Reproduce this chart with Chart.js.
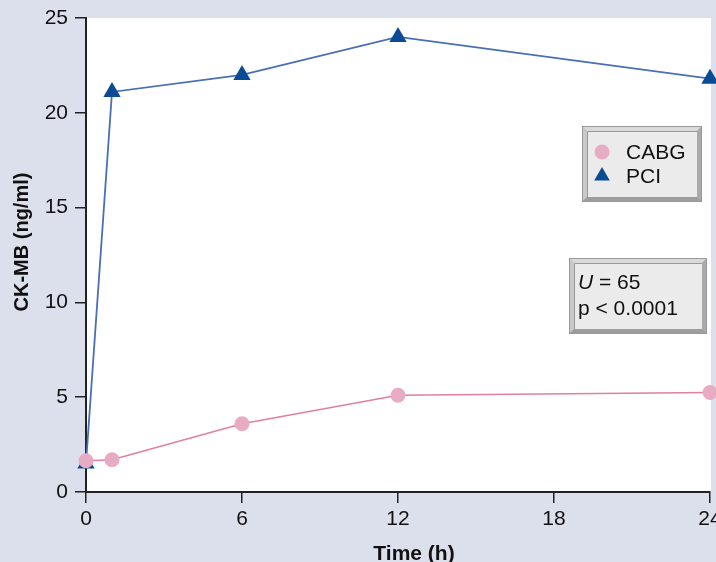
<!DOCTYPE html>
<html>
<head>
<meta charset="utf-8">
<script src="https://cdn.jsdelivr.net/npm/chart.js@4/dist/chart.umd.min.js"></script>
<style>
  html, body { margin: 0; padding: 0; background: #dcdfec; }
  #wrap { width: 716px; height: 562px; position: relative; }
  canvas { display: block; }
</style>
</head>
<body>
<div id="wrap"><canvas id="c" width="716" height="562"></canvas></div>
<script>
// ---- data ----
const hours = [0, 1, 6, 12, 24];
const cabgValues = [1.65, 1.7, 3.6, 5.1, 5.25];
const pciValues = [1.5, 21.1, 22.0, 24.0, 21.8];
const seriesLabels = ['CABG', 'PCI'];
const xTickValues = [0, 6, 12, 18, 24];
const yTickValues = [0, 5, 10, 15, 20, 25];
const xTitle = 'Time (h)';
const yTitle = 'CK-MB (ng/ml)';
const statLines = [['U', ' = 65'], ['', 'p < 0.0001']];

const FONT = "'Liberation Sans', Arial, Helvetica, sans-serif";
const BG = '#dcdfec';

function bevelBox(ctx, x, y, w, h) {
  const b = 5;
  ctx.save();
  ctx.fillStyle = '#b4b4b4';
  ctx.fillRect(x, y, w, h);
  ctx.fillStyle = '#dadada';
  ctx.beginPath();
  ctx.moveTo(x, y); ctx.lineTo(x + w, y); ctx.lineTo(x + w - b, y + b); ctx.lineTo(x + b, y + b); ctx.closePath(); ctx.fill();
  ctx.fillStyle = '#c9c9c9';
  ctx.beginPath();
  ctx.moveTo(x, y); ctx.lineTo(x + b, y + b); ctx.lineTo(x + b, y + h - b); ctx.lineTo(x, y + h); ctx.closePath(); ctx.fill();
  ctx.fillStyle = '#aaaaaa';
  ctx.beginPath();
  ctx.moveTo(x + w, y); ctx.lineTo(x + w, y + h); ctx.lineTo(x + w - b, y + h - b); ctx.lineTo(x + w - b, y + b); ctx.closePath(); ctx.fill();
  ctx.fillStyle = '#9d9d9d';
  ctx.beginPath();
  ctx.moveTo(x, y + h); ctx.lineTo(x + w, y + h); ctx.lineTo(x + w - b, y + h - b); ctx.lineTo(x + b, y + h - b); ctx.closePath(); ctx.fill();
  ctx.fillStyle = '#ebebeb';
  ctx.fillRect(x + b, y + b, w - 2 * b, h - 2 * b);
  ctx.strokeStyle = '#999';
  ctx.lineWidth = 1;
  ctx.beginPath();
  ctx.moveTo(x + b + 0.5, y + h - b); ctx.lineTo(x + b + 0.5, y + b + 0.5); ctx.lineTo(x + w - b, y + b + 0.5);
  ctx.stroke();
  ctx.strokeStyle = '#999';
  ctx.strokeRect(x + 0.5, y + 0.5, w - 1, h - 1);
  ctx.restore();
}

const decor = {
  id: 'decor',
  beforeDraw(chart) {
    const { ctx, chartArea: a } = chart;
    ctx.save();
    ctx.fillStyle = BG;
    ctx.fillRect(0, 0, chart.width, chart.height);
    ctx.fillStyle = '#ffffff';
    ctx.fillRect(a.left, a.top, a.right - a.left + 1, a.bottom - a.top);
    ctx.restore();
  },
  afterDraw(chart) {
    const { ctx } = chart;
    ctx.save();
    ctx.fillStyle = '#111';
    ctx.font = 'bold 21px ' + FONT;
    ctx.textAlign = 'center';
    ctx.textBaseline = 'alphabetic';
    ctx.fillText(xTitle, 414, 560);
    ctx.save();
    ctx.translate(28, 242);
    ctx.rotate(-Math.PI / 2);
    ctx.font = 'bold 20px ' + FONT;
    ctx.fillText(yTitle, 0, 0);
    ctx.restore();

    // legend box
    bevelBox(ctx, 582, 126, 120, 76);
    const ds = chart.data.datasets;
    const rows = [152, 176];
    ds.forEach((d, i) => {
      ctx.fillStyle = d.pointBackgroundColor;
      ctx.beginPath();
      if (d.pointStyle === 'circle') {
        ctx.arc(602, rows[i], d.legendRadius, 0, Math.PI * 2);
      } else {
        const r = d.legendRadius;
        ctx.moveTo(602, rows[i] - r);
        ctx.lineTo(602 + r * Math.sin(2 * Math.PI / 3), rows[i] + r / 2);
        ctx.lineTo(602 - r * Math.sin(2 * Math.PI / 3), rows[i] + r / 2);
        ctx.closePath();
      }
      ctx.fill();
      ctx.fillStyle = '#111';
      ctx.font = '21px ' + FONT;
      ctx.textAlign = 'left';
      ctx.textBaseline = 'middle';
      ctx.fillText(d.label, 626, rows[i] + 1);
    });

    // stats box
    bevelBox(ctx, 569, 258, 138, 76);
    const sRows = [283, 309];
    statLines.forEach((ln, i) => {
      let x = 578;
      ctx.textAlign = 'left';
      ctx.textBaseline = 'middle';
      ctx.fillStyle = '#111';
      if (ln[0]) {
        ctx.font = 'italic 21px ' + FONT;
        ctx.fillText(ln[0], x, sRows[i]);
        x += ctx.measureText(ln[0]).width;
      }
      ctx.font = '21px ' + FONT;
      ctx.fillText(ln[1], x, sRows[i]);
    });
    ctx.restore();
  }
};

const toPoints = (xs, ys) => xs.map((x, i) => ({ x: x, y: ys[i] }));

new Chart(document.getElementById('c'), {
  type: 'line',
  data: {
    datasets: [
      {
        label: seriesLabels[0],
        data: toPoints(hours, cabgValues),
        borderColor: '#e07fa3',
        borderWidth: 1.6,
        pointStyle: 'circle',
        pointRadius: 7.5,
        pointHoverRadius: 7.5,
        pointBackgroundColor: '#e8abc4',
        pointBorderWidth: 0,
        legendRadius: 7.5,
        tension: 0,
        clip: false
      },
      {
        label: seriesLabels[1],
        data: toPoints(hours, pciValues),
        borderColor: '#4a6fb5',
        borderWidth: 1.8,
        pointStyle: 'triangle',
        pointRadius: 10,
        pointHoverRadius: 10,
        pointBackgroundColor: '#0b4a94',
        pointBorderWidth: 0,
        legendRadius: 9,
        tension: 0,
        clip: false
      }
    ]
  },
  options: {
    responsive: false,
    animation: false,
    devicePixelRatio: 1,
    events: [],
    layout: { padding: { top: 18, right: 6, left: 0, bottom: 0 }, autoPadding: false },
    plugins: { legend: { display: false }, tooltip: { enabled: false }, title: { display: false } },
    scales: {
      x: {
        type: 'linear',
        min: 0,
        max: 24,
        afterBuildTicks: (s) => { s.ticks = xTickValues.map(v => ({ value: v })); },
        afterFit: (s) => { s.height = 70; s.paddingLeft = 0; s.paddingRight = 0; },
        border: { display: true, color: '#222', width: 2 },
        grid: { display: true, drawOnChartArea: false, drawTicks: true, tickLength: 11, color: '#222', lineWidth: 1.5 },
        ticks: { color: '#111', font: { family: FONT, size: 21 }, padding: 4, maxRotation: 0 }
      },
      y: {
        type: 'linear',
        min: 0,
        max: 25,
        afterBuildTicks: (s) => { s.ticks = yTickValues.map(v => ({ value: v })); },
        afterFit: (s) => { s.width = 86; s.paddingTop = 0; s.paddingBottom = 0; },
        border: { display: true, color: '#222', width: 2 },
        grid: { display: true, drawOnChartArea: false, drawTicks: true, tickLength: 11, color: '#222', lineWidth: 1.5 },
        ticks: { color: '#111', font: { family: FONT, size: 21 }, padding: 7 }
      }
    }
  },
  plugins: [decor]
});
</script>
</body>
</html>
